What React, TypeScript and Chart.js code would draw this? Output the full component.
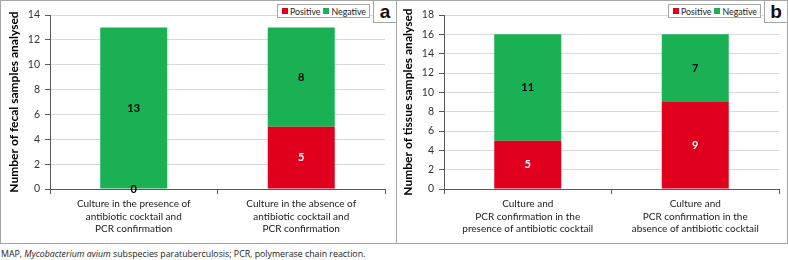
import React, { useEffect, useRef } from 'react';
import { Chart, registerables } from 'chart.js';
Chart.register(...registerables);

const categoriesA: string[][] = [
  ['Culture in the presence of', 'antibiotic cocktail and', 'PCR confirmation'],
  ['Culture in the absence of', 'antibiotic cocktail and', 'PCR confirmation'],
];
const positiveA = [0, 5];
const negativeA = [13, 8];
const yMaxA = 14;

const categoriesB: string[][] = [
  ['Culture and', 'PCR confirmation in the', 'presence of antibiotic cocktail'],
  ['Culture and', 'PCR confirmation in the', 'absence of antibiotic cocktail'],
];
const positiveB = [5, 9];
const negativeB = [11, 7];
const yMaxB = 18;

const seriesNames = ['Positive', 'Negative'];
const RED = '#E0001E';
const GREEN = '#1AB155';
const FONT = 'Lato, "Liberation Sans", sans-serif';
const BORDER = '#a6a6a6';

const valueLabels = {
  id: 'valueLabels',
  afterDatasetsDraw(chart: any) {
    const ctx = chart.ctx;
    ctx.save();
    ctx.font = `bold 11px ${FONT}`;
    ctx.textAlign = 'center';
    ctx.textBaseline = 'middle';
    chart.data.datasets.forEach((ds: any, di: number) => {
      const meta = chart.getDatasetMeta(di);
      meta.data.forEach((el: any, i: number) => {
        const v = ds.data[i];
        const y = (el.y + el.base) / 2;
        ctx.fillStyle = di === 0 && v !== 0 ? '#ffffff' : '#000000';
        ctx.fillText(String(v), el.x, y);
      });
    });
    ctx.restore();
  },
};

type PanelProps = {
  left: number;
  width: number;
  categories: string[][];
  pos: number[];
  neg: number[];
  yMax: number;
  yTitle: string;
  axisWidth: number;
  rightPad: number;
  titlePad: number;
  letter: string;
};

function Panel(p: PanelProps) {
  const ref = useRef<HTMLCanvasElement>(null);
  useEffect(() => {
    const chart = new Chart(ref.current!, {
      type: 'bar',
      data: {
        labels: p.categories,
        datasets: [
          { label: seriesNames[0], data: p.pos, backgroundColor: RED, barPercentage: 0.4, categoryPercentage: 1 },
          { label: seriesNames[1], data: p.neg, backgroundColor: GREEN, barPercentage: 0.4, categoryPercentage: 1 },
        ],
      },
      options: {
        animation: false,
        responsive: false,
        maintainAspectRatio: false,
        layout: { padding: { top: 14, right: p.rightPad, bottom: 0, left: 0 } },
        plugins: { legend: { display: false }, tooltip: { enabled: false } },
        scales: {
          x: {
            stacked: true,
            afterFit: (s: any) => { s.height = 54; },
            grid: { drawOnChartArea: false, tickLength: 5, tickColor: '#595959', offset: true },
            border: { color: '#595959', width: 1 },
            ticks: { color: '#222', font: { family: FONT, size: 10, lineHeight: 1.25 }, padding: 4, maxRotation: 0, autoSkip: false },
          },
          y: {
            stacked: true,
            min: 0,
            max: p.yMax,
            afterFit: (s: any) => { s.width = p.axisWidth; },
            ticks: { stepSize: 2, color: '#333', font: { family: FONT, size: 10.5 }, padding: 5 },
            grid: { color: '#d9d9d9', tickLength: 5, tickColor: '#595959' },
            border: { color: '#595959', width: 1 },
            title: {
              display: true,
              text: p.yTitle,
              color: '#000',
              font: { family: FONT, size: 12, weight: 'bold' },
              padding: { top: p.titlePad, bottom: 0 },
            },
          },
        },
      },
      plugins: [valueLabels],
    } as any);
    return () => chart.destroy();
  }, []);
  const innerW = p.width - 2;
  return (
    <div style={{ position: 'absolute', left: p.left, top: 0, width: p.width, height: 244, boxSizing: 'border-box', border: `1px solid ${BORDER}`, background: '#fff' }}>
      <canvas ref={ref} width={innerW} height={242} style={{ display: 'block', width: innerW, height: 242 }} />
      <div style={{ position: 'absolute', right: 26, top: 3, width: 93, height: 14, boxSizing: 'border-box', border: `1px solid ${BORDER}`, background: '#fff', display: 'flex', alignItems: 'center', justifyContent: 'space-between', padding: '0 3px 0 4px', fontFamily: FONT, fontSize: 8.8, color: '#222', whiteSpace: 'nowrap' }}>
        <span style={{ display: 'flex', alignItems: 'center' }}>
          <span style={{ display: 'inline-block', width: 6, height: 6, background: RED, marginRight: 2 }} />
          <span>{seriesNames[0]}</span>
        </span>
        <span style={{ display: 'flex', alignItems: 'center' }}>
          <span style={{ display: 'inline-block', width: 6, height: 6, background: GREEN, marginRight: 2 }} />
          <span>{seriesNames[1]}</span>
        </span>
      </div>
      <div style={{ position: 'absolute', right: -1, top: -1, width: 24, height: 23, boxSizing: 'border-box', border: `1px solid ${BORDER}`, background: '#fff', fontFamily: '"Liberation Sans", Arial, sans-serif', fontWeight: 'bold', fontSize: 19, lineHeight: '21px', textAlign: 'center', color: '#111' }}>
        {p.letter}
      </div>
    </div>
  );
}

export default function App() {
  return (
    <div style={{ position: 'fixed', left: 0, top: 0, width: 788, height: 260, background: '#fff', overflow: 'hidden' }}>
      <Panel left={0} width={397} categories={categoriesA} pos={positiveA} neg={negativeA} yMax={yMaxA}
        yTitle="Number of fecal samples analysed" axisWidth={49} rightPad={11} titlePad={6} letter="a" />
      <Panel left={396} width={392} categories={categoriesB} pos={positiveB} neg={negativeB} yMax={yMaxB}
        yTitle="Number of tissue samples analysed" axisWidth={47} rightPad={8} titlePad={4} letter="b" />
      <div style={{ position: 'absolute', left: 1, top: 248, fontFamily: '"Open Sans", sans-serif', fontSize: 8.8, color: '#222', whiteSpace: 'nowrap' }}>
        MAP, <i>Mycobacterium avium</i> subspecies paratuberculosis; PCR, polymerase chain reaction.
      </div>
    </div>
  );
}
